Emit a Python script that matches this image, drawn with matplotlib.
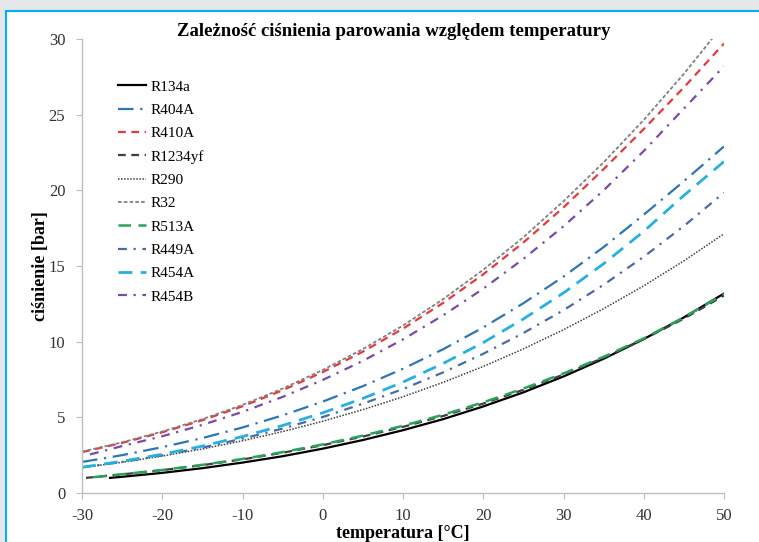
import matplotlib
matplotlib.use("Agg")
import matplotlib.pyplot as plt
from matplotlib.patches import Rectangle
import numpy as np

# temperatura [C] co 5 stopni
temp = [-30, -25, -20, -15, -10, -5, 0, 5, 10, 15, 20, 25, 30, 35, 40, 45, 50]

# cisnienie parowania [bar]
r134a_t = [-26.5, -25, -20, -15, -10, -5, 0, 5, 10, 15, 20, 25, 30, 35, 40, 45, 50]
r134a = [1.00, 1.07, 1.33, 1.64, 2.01, 2.43, 2.93, 3.50, 4.15, 4.88, 5.72, 6.65, 7.70, 8.87, 10.17, 11.60, 13.18]
r404a = [2.05, 2.50, 3.03, 3.63, 4.33, 5.13, 6.04, 7.06, 8.21, 9.50, 10.94, 12.54, 14.30, 16.25, 18.39, 20.60, 22.90]
r410a = [2.70, 3.31, 4.01, 4.81, 5.73, 6.79, 7.99, 9.34, 10.86, 12.56, 14.45, 16.55, 18.87, 21.40, 24.05, 26.80, 29.70]
r1234yf_t = [-29.5, -25, -20, -15, -10, -5, 0, 5, 10, 15, 20, 25, 30, 35, 40, 45, 50]
r1234yf = [1.00, 1.23, 1.51, 1.84, 2.22, 2.66, 3.16, 3.73, 4.37, 5.09, 5.91, 6.82, 7.83, 8.94, 10.17, 11.52, 13.05]
r290 = [1.68, 2.03, 2.44, 2.91, 3.45, 4.06, 4.74, 5.51, 6.36, 7.31, 8.36, 9.52, 10.79, 12.18, 13.69, 15.34, 17.13]
r32 = [2.73, 3.35, 4.06, 4.88, 5.82, 6.90, 8.13, 9.51, 11.07, 12.81, 14.75, 16.90, 19.28, 21.85, 24.65, 27.70, 31.00]
r513a_t = [-28.5, -25, -20, -15, -10, -5, 0, 5, 10, 15, 20, 25, 30, 35, 40, 45, 50]
r513a = [1.05, 1.24, 1.52, 1.86, 2.25, 2.70, 3.21, 3.79, 4.44, 5.17, 5.99, 6.90, 7.90, 9.00, 10.22, 11.60, 13.15]
r449a = [1.70, 2.05, 2.49, 3.00, 3.59, 4.26, 5.02, 5.90, 6.87, 7.97, 9.20, 10.57, 12.08, 13.76, 15.61, 17.64, 19.85]
r454a = [1.70, 2.10, 2.56, 3.10, 3.73, 4.46, 5.30, 6.25, 7.33, 8.56, 9.94, 11.50, 13.22, 15.15, 17.29, 19.66, 21.90]
r454b_t = [-29, -25, -20, -15, -10, -5, 0, 5, 10, 15, 20, 25, 30, 35, 40, 45, 50]
r454b = [2.55, 3.10, 3.75, 4.50, 5.36, 6.35, 7.47, 8.73, 10.15, 11.74, 13.50, 15.47, 17.62, 20.00, 22.60, 25.40, 28.20]

plt.rcParams['font.family'] = ['Liberation Serif', 'DejaVu Serif']
plt.rcParams['axes.unicode_minus'] = False

fig = plt.figure(figsize=(7.59, 5.42), dpi=100)
fig.patch.set_facecolor('#e6e7e9')
fig.patches.append(Rectangle((6/759, -0.01), 1.0, (542-11)/542 + 0.01, transform=fig.transFigure,
                             facecolor='white', edgecolor='#00b0f0', lw=1.5, zorder=-5))

ax = fig.add_axes([82/759, 1-493/542, (724-82)/759, (493-39)/542])
ax.set_facecolor('none')
ax.set_zorder(2)

ax.plot(r134a_t, r134a, color='black', lw=1.6, label='R134a')
ax.plot(temp, r404a, color='#2e75b6', lw=1.6, dashes=(7, 3, 1, 3), label='R404A')
ax.plot(temp, r410a, color='#e8383d', lw=1.6, dashes=(3.5, 2.5), label='R410A')
ax.plot(r1234yf_t, r1234yf, color='#404040', lw=1.6, dashes=(3.5, 2.5), label='R1234yf')
ax.plot(temp, r290, color='#404040', lw=1.1, dashes=(1, 1), label='R290')
ax.plot(temp, r32, color='#808080', lw=1.3, dashes=(2, 1.2), label='R32')
ax.plot(r513a_t, r513a, color='#2aa35a', lw=1.8, dashes=(5, 3), label='R513A')
ax.plot(temp, r449a, color='#4a6aa5', lw=1.6, dashes=(4, 3, 1, 3), label='R449A')
ax.plot(temp, r454a, color='#25b0e0', lw=2.0, dashes=(5, 3), label='R454A')
ax.plot(r454b_t, r454b, color='#7a4aa8', lw=1.6, dashes=(4, 3, 1, 3), label='R454B')

ax.set_xlim(-30, 50)
ax.set_ylim(0, 30)
ax.set_xticks(range(-30, 51, 10))
ax.set_yticks(range(0, 31, 5))
for s in ['top', 'right']:
    ax.spines[s].set_visible(False)
for s in ['left', 'bottom']:
    ax.spines[s].set_color('#bfbfbf')
    ax.spines[s].set_linewidth(1.0)
ax.tick_params(axis='both', direction='out', length=4, color='#bfbfbf', labelsize=12, labelcolor='#333333')
ax.tick_params(axis='x', pad=7)
ax.tick_params(axis='y', pad=8)

fig.text(394/759, 1-32/542, 'Zależność ciśnienia parowania względem temperatury',
         ha='center', va='center', fontsize=13.5, fontweight='bold')
fig.text(403/759, 1-533/542, 'temperatura [°C]', ha='center', va='center', fontsize=13, fontweight='bold')
fig.text(40/759, 1-266/542, 'ciśnienie [bar]', ha='center', va='center', rotation=90,
         fontsize=13, fontweight='bold')

ax.legend(loc='upper left', bbox_to_anchor=(118/759, 1-80/542), bbox_transform=fig.transFigure,
          frameon=False, fontsize=11, handlelength=1.8, handletextpad=0.3, labelspacing=0.63,
          borderpad=0, borderaxespad=0)

fig.savefig('out.png', dpi=100, facecolor=fig.get_facecolor())
